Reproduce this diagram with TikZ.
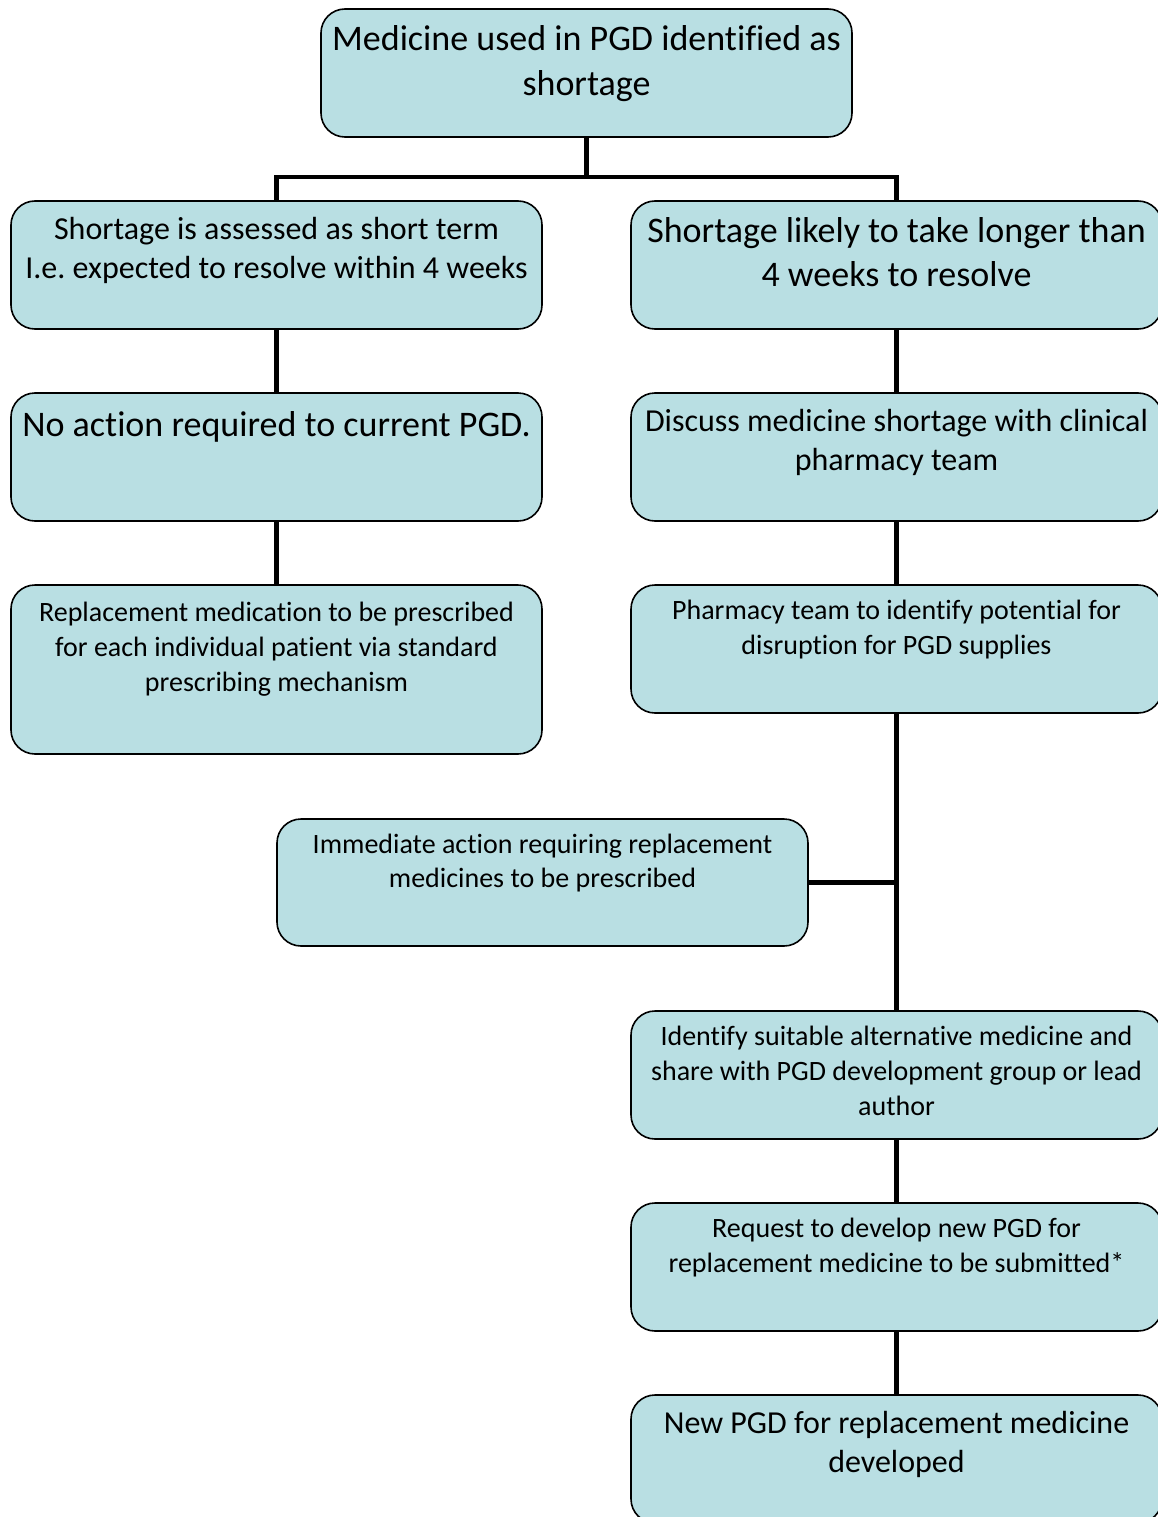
\documentclass[tikz,border=0pt]{standalone}
\usepackage{fontspec}
\setmainfont{Carlito}[Ligatures={NoCommon,NoContextual},Contextuals=NoAlternate]
\frenchspacing
\usetikzlibrary{positioning}
\definecolor{pgdblue}{RGB}{185,223,227}
\tikzset{
  stepbox/.style = {draw, line width=1.6bp, rounded corners=24bp, fill=pgdblue, minimum width=531bp, minimum height=128bp, inner sep=0pt},
  boxtext/.style = {align=center, inner sep=0pt},
  bigtext/.style = {boxtext, font=\fontsize{36bp}{45bp}\selectfont},
  midtext/.style = {boxtext, font=\fontsize{32bp}{39bp}\selectfont},
  smalltext/.style = {boxtext, font=\fontsize{28bp}{35bp}\selectfont},
  link/.style = {line width=4.6bp},
}
\begin{document}
\begin{tikzpicture}[x=1bp,y=-1bp]
\useasboundingbox (0,0) rectangle (1157,1517);

% boxes
\node[stepbox] (medicine) at (586.5,73) {};
\node[stepbox] (shortterm) at (276.5,265) {};
\node[stepbox] (longterm) at (896.5,265) {};
\node[stepbox] (noaction) at (276.5,457) {};
\node[stepbox] (discuss) at (896.5,457) {};
\node[stepbox, minimum height=169bp] (replacement) at (276.5,669.5) {};
\node[stepbox] (potential) at (896.5,649) {};
\node[stepbox, minimum height=127bp] (immediate) at (542.5,882.5) {};
\node[stepbox] (identify) at (896.5,1075) {};
\node[stepbox] (request) at (896.5,1267) {};
\node[stepbox] (newpgd) at (896.5,1459) {};

% texts
\node[bigtext, below=17bp of medicine.north] (medicineT) {Medicine used in PGD identified as\\shortage};
\node[midtext, below=17bp of shortterm.north] (shorttermT) {Shortage is assessed as short term\\I.e. expected to resolve within 4 weeks};
\node[bigtext, below=17bp of longterm.north, font=\fontsize{36bp}{44bp}\selectfont] (longtermT) {Shortage likely to take longer than\\4 weeks to resolve};
\node[bigtext, below=19bp of noaction.north] (noactionT) {No action required to current PGD.};
\node[midtext, below=17bp of discuss.north] (discussT) {Discuss medicine shortage with clinical\\pharmacy team};
\node[smalltext, below=18bp of replacement.north] (replacementT) {Replacement medication to be prescribed\\for each individual patient via standard\\prescribing mechanism};
\node[smalltext, below=16bp of potential.north] (potentialT) {Pharmacy team to identify potential for\\disruption for PGD supplies};
\node[smalltext, below=16bp of immediate.north, font=\fontsize{28bp}{34bp}\selectfont] (immediateT) {Immediate action requiring replacement\\medicines to be prescribed};
\node[smalltext, below=16bp of identify.north] (identifyT) {Identify suitable alternative medicine and\\share with PGD development group or lead\\author};
\node[smalltext, below=16bp of request.north] (requestT) {Request to develop new PGD for\\replacement medicine to be submitted*};
\node[midtext, below=17bp of newpgd.north] (newpgdT) {New PGD for replacement medicine\\developed};

% connectors
\coordinate (fork) at (586.5,177);
\draw[link] (medicine.south) -- (fork);
\draw[link] (shortterm.north) |- (fork) -| (longterm.north);
\draw[link] (shortterm.south) -- (noaction.north);
\draw[link] (noaction.south) -- (replacement.north);
\draw[link] (longterm.south) -- (discuss.north);
\draw[link] (discuss.south) -- (potential.north);
\draw[link] (potential.south) -- (identify.north);
\draw[link] (immediate.east) -- (immediate.east -| potential.south);
\draw[link] (identify.south) -- (request.north);
\draw[link] (request.south) -- (newpgd.north);
\end{tikzpicture}
\end{document}
